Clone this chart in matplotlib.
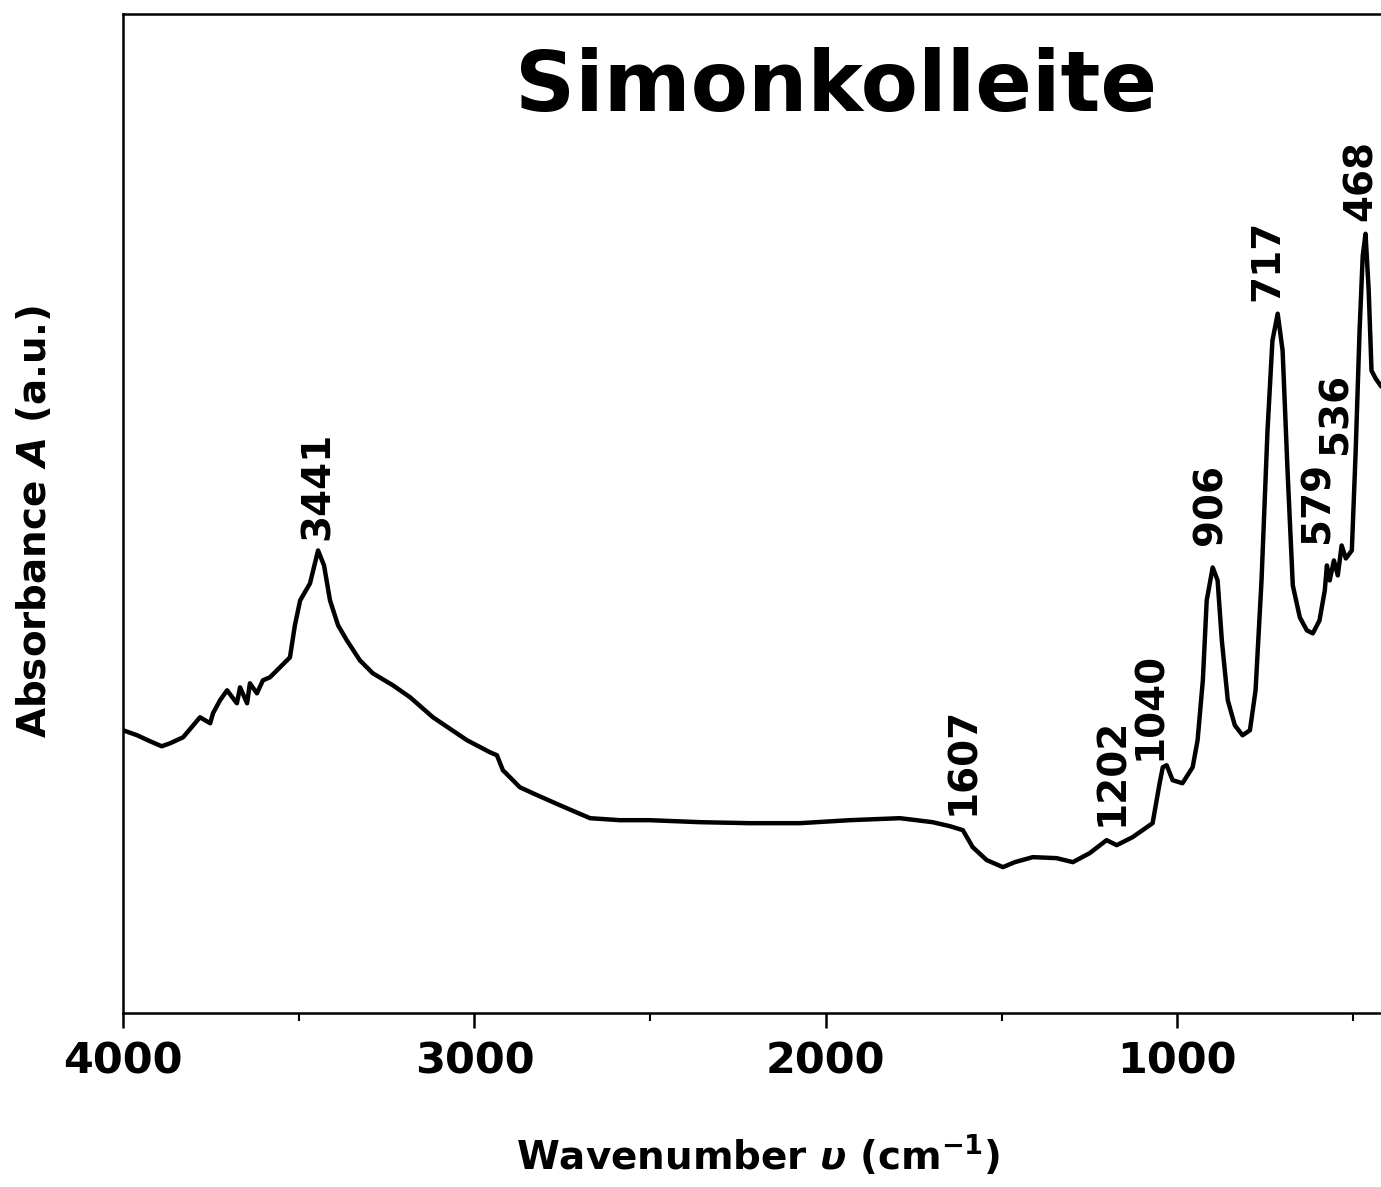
import matplotlib.pyplot as plt
from matplotlib.ticker import MultipleLocator

plt.rcParams['font.family'] = 'DejaVu Sans'
plt.rcParams['font.weight'] = 'bold'

# spectrum (wavenumber cm-1, absorbance a.u.)
wavenumber = [4000, 3960, 3923, 3890, 3866, 3829, 3781, 3752, 3744, 3724, 3704, 3676,
              3667, 3647, 3639, 3619, 3602, 3582, 3562, 3525, 3511, 3496, 3468, 3445,
              3428, 3411, 3388, 3363, 3326, 3289, 3232, 3183, 3118, 3021, 2956, 2936,
              2919, 2899, 2871, 2834, 2757, 2671, 2586, 2501, 2358, 2216, 2074, 1932,
              1789, 1696, 1647, 1610, 1582, 1542, 1496, 1462, 1411, 1343, 1297, 1249,
              1201, 1172, 1127, 1070, 1050, 1041, 1030, 1013, 985, 956, 942, 927, 916,
              899, 885, 873, 856, 836, 814, 793, 777, 760, 743, 729, 714, 700, 686, 671,
              651, 631, 614, 595, 580, 574, 566, 554, 543, 532, 520, 503, 492, 481, 472,
              464, 455, 447, 435, 421]
absorbance = [0.283, 0.278, 0.272, 0.267, 0.270, 0.276, 0.296, 0.290, 0.300, 0.313, 0.323, 0.310,
              0.326, 0.310, 0.330, 0.320, 0.333, 0.336, 0.343, 0.356, 0.388, 0.413, 0.430, 0.463,
              0.448, 0.413, 0.388, 0.373, 0.353, 0.340, 0.328, 0.316, 0.296, 0.273, 0.261, 0.258,
              0.243, 0.236, 0.226, 0.220, 0.208, 0.195, 0.193, 0.193, 0.191, 0.190, 0.190, 0.193,
              0.195, 0.191, 0.187, 0.183, 0.166, 0.153, 0.146, 0.151, 0.156, 0.155, 0.151, 0.160,
              0.173, 0.168, 0.176, 0.190, 0.230, 0.246, 0.248, 0.233, 0.230, 0.246, 0.273, 0.333, 0.413,
              0.446, 0.433, 0.373, 0.313, 0.288, 0.278, 0.283, 0.323, 0.433, 0.583, 0.673, 0.700, 0.663,
              0.543, 0.428, 0.396, 0.383, 0.380, 0.393, 0.423, 0.448, 0.433, 0.453, 0.438, 0.468, 0.455,
              0.463, 0.563, 0.683, 0.758, 0.780, 0.723, 0.643, 0.635, 0.628]

peak_labels = ['3441', '1607', '1202', '1040', '906', '717', '579', '536', '468']
label_x = [3445, 1610, 1184, 1078, 904, 743, 600, 549, 478]
label_y = [0.473, 0.198, 0.187, 0.253, 0.468, 0.713, 0.470, 0.560, 0.793]

fig = plt.figure(figsize=(13.81, 11.87), dpi=100)
ax = fig.add_axes([0.0891, 0.1466, 0.9109, 0.8416])

ax.plot(wavenumber, absorbance, color='black', lw=3.2)

ax.set_xlim(4000, 420)
ax.set_ylim(0, 1)

ax.xaxis.set_major_locator(MultipleLocator(1000))
ax.xaxis.set_minor_locator(MultipleLocator(500))
ax.tick_params(axis='x', which='major', direction='out', length=11, width=1.8,
               labelsize=31, pad=9)
ax.tick_params(axis='x', which='minor', direction='out', length=6, width=1.5)
ax.set_yticks([])
for lab in ax.get_xticklabels():
    lab.set_fontweight('bold')

for s in ['left', 'bottom', 'top']:
    ax.spines[s].set_linewidth(1.8)
ax.spines['right'].set_visible(False)

for t, x, y in zip(peak_labels, label_x, label_y):
    ax.text(x, y, t, rotation=90, ha='center', va='bottom', fontsize=28, fontweight='bold')

ax.text(0.567, 0.926, 'Simonkolleite', transform=ax.transAxes, ha='center', va='center',
        fontsize=60, fontweight='bold')

fig.text(35 / 1381, 1 - 522 / 1187, r'Absorbance $\boldsymbol{A}$ (a.u.)', rotation=90,
         ha='center', va='center', fontsize=28, fontweight='bold')
fig.text(758 / 1381, 1 - 1155 / 1187, r'Wavenumber $\upsilon$ (cm$^{\mathbf{-1}}$)',
         ha='center', va='center', fontsize=28, fontweight='bold')

fig.savefig('out.png', dpi=100)
